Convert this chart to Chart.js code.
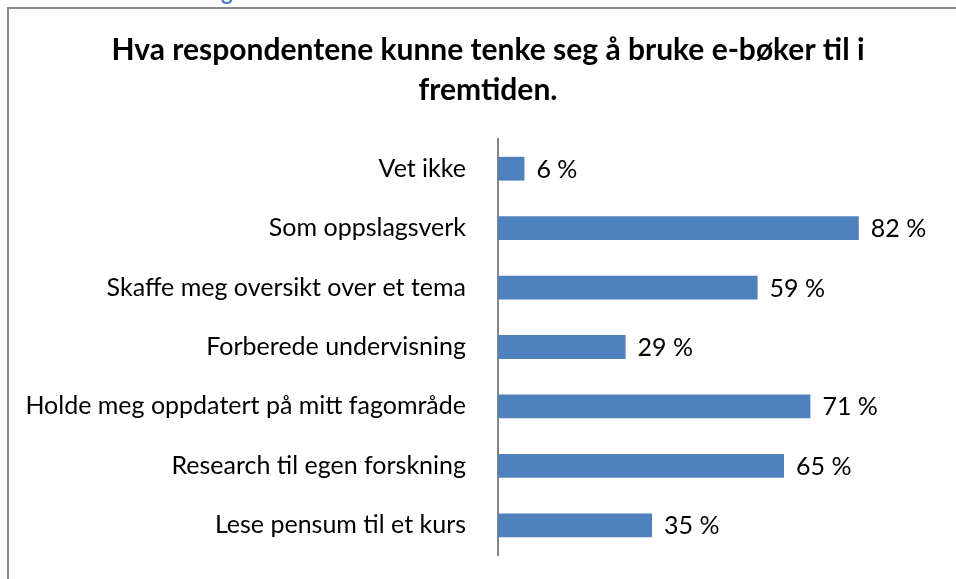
<!DOCTYPE html>
<html>
<head>
<meta charset="utf-8">
<script src="https://cdn.jsdelivr.net/npm/chart.js@4"></script>
<style>
  html, body { margin: 0; padding: 0; background: #fff; overflow: hidden; }
  #wrap { position: relative; width: 956px; height: 579px; }
  #frame {
    position: absolute; left: 7px; top: 7px; width: 960px; height: 600px;
    border-left: 2px solid #8a8a8a; border-top: 2px solid #8a8a8a;
  }
  #cut {
    position: absolute; left: 221px; top: -22px; font: bold 22px Lato, sans-serif;
    color: #4f81bd;
  }
  canvas { position: absolute; left: 0; top: 0; }
</style>
</head>
<body>
<div id="wrap">
  <div id="cut">g</div>
  <div id="frame"></div>
  <canvas id="chart" width="956" height="579"></canvas>
</div>
<script>
// ── Data ──────────────────────────────────────────────────
const CATEGORIES = [
  'Vet ikke',
  'Som oppslagsverk',
  'Skaffe meg oversikt over et tema',
  'Forberede undervisning',
  'Holde meg oppdatert på mitt fagområde',
  'Research til egen forskning',
  'Lese pensum til et kurs',
];
const VALUES = [6, 82, 59, 29, 71, 65, 35];
const TITLE_LINES = ['Hva respondentene kunne tenke seg å bruke e-bøker til i', 'fremtiden.'];

const FONT = "Lato, 'Open Sans', sans-serif";

// ── Title, centred on the outer frame (which runs past the page edge) ──
const frameTitle = {
  id: 'frameTitle',
  afterDraw(chart) {
    const { ctx } = chart;
    ctx.save();
    ctx.font = `bold 30px ${FONT}`;
    ctx.fillStyle = '#000';
    ctx.textAlign = 'center';
    ctx.textBaseline = 'middle';
    TITLE_LINES.forEach((line, i) => ctx.fillText(line, 488, 50 + i * 40));
    ctx.restore();
  },
};

// ── Value labels at bar ends ──────────────────────────────
const valueLabels = {
  id: 'valueLabels',
  afterDatasetsDraw(chart) {
    const { ctx } = chart;
    const meta = chart.getDatasetMeta(0);
    ctx.save();
    ctx.font = `25px ${FONT}`;
    ctx.fillStyle = '#000';
    ctx.textAlign = 'left';
    ctx.textBaseline = 'middle';
    meta.data.forEach((bar, i) => {
      ctx.fillText(VALUES[i] + ' %', bar.x + 12, bar.y + 1);
    });
    ctx.restore();
  },
};

new Chart(document.getElementById('chart'), {
  type: 'bar',
  data: {
    labels: CATEGORIES,
    datasets: [{
      data: VALUES,
      backgroundColor: '#4f81bd',
      borderWidth: 0,
      barPercentage: 0.4,
      categoryPercentage: 1,
    }],
  },
  options: {
    indexAxis: 'y',
    responsive: false,
    animation: false,
    layout: { padding: { left: 0, right: 18, top: 139, bottom: 24 } },
    plugins: {
      legend: { display: false },
      tooltip: { enabled: false },
      title: { display: false },
    },
    scales: {
      x: { display: false, min: 0, max: 100 },
      y: {
        afterFit(scale) {
          scale.width = 498;
          scale.paddingTop = 0;
          scale.paddingBottom = 0;
        },
        grid: { drawOnChartArea: false, drawTicks: false },
        border: { color: '#868686', width: 2 },
        ticks: { color: '#000', padding: 32, font: { family: FONT, size: 25 } },
      },
    },
  },
  plugins: [valueLabels, frameTitle],
});
</script>
</body>
</html>
